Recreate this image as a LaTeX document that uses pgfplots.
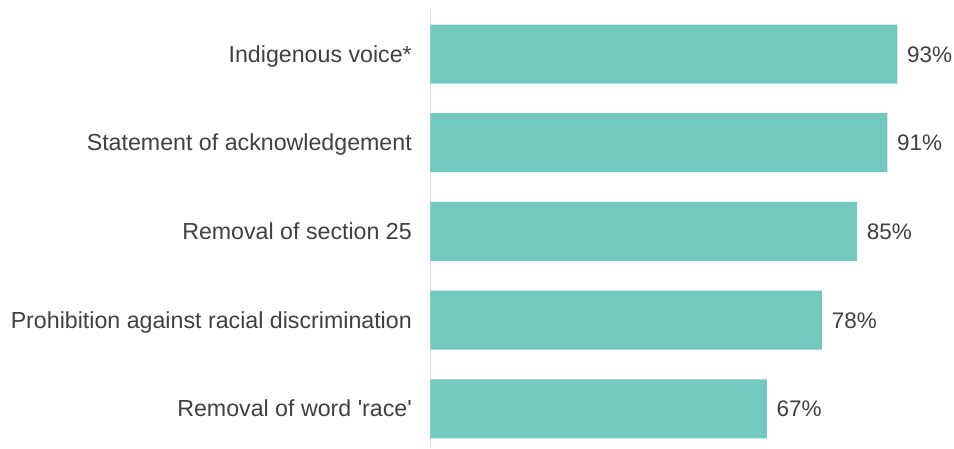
\documentclass[border=0pt]{standalone}
\usepackage{fontspec}
\newfontfamily\lab{Liberation Sans}
\usepackage{pgfplots}
\pgfplotsset{compat=1.18}
\definecolor{barc}{HTML}{74C9BE}
\definecolor{txt}{HTML}{404040}
\definecolor{axc}{HTML}{D9D9D9}
\begin{document}
\begin{tikzpicture}[x=1pt,y=1pt]
\path[use as bounding box] (0,0) rectangle (954,448);
\begin{axis}[
 at={(430.5pt,0pt)}, anchor=south west,
 scale only axis, width=502pt, height=438pt,
 xmin=0, xmax=100, ymin=-0.44, ymax=4.496,
 xbar, bar width=59pt,
 hide x axis,
 axis y line*=left,
 y axis line style={draw=axc, line width=1.5pt},
 ytick={0,...,4},
 yticklabels={Removal of word 'race', Prohibition against racial discrimination, Removal of section 25, Statement of acknowledgement, Indigenous voice*},
 major tick length=0pt,
 /pgf/number format/assume math mode=true,
 yticklabel style={font=\lab\fontsize{23.2}{26}\selectfont, text=txt, anchor=base east, inner sep=0pt, xshift=-18.5pt, yshift=-8pt},
 nodes near coords={\pgfmathprintnumber{\pgfplotspointmeta}\%},
 point meta=x,
 every node near coord/.append style={font=\lab\fontsize{22.5}{26}\selectfont, text=txt, anchor=base west, inner sep=0pt, xshift=9.5pt, yshift=-8pt},
 clip=false,
]
\addplot[fill=barc, draw=none] coordinates {(67,0) (78,1) (85,2) (91,3) (93,4)};
\end{axis}
\end{tikzpicture}
\end{document}
